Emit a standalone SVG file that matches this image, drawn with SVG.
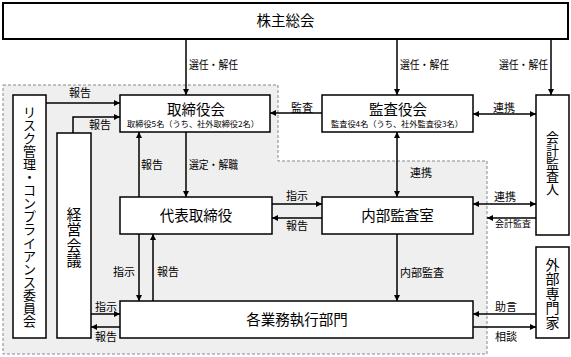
<svg xmlns="http://www.w3.org/2000/svg" width="571" height="357" viewBox="0 0 571 357">
<style>
text{font-family:"Noto Sans CJK JP","Noto Sans CJK SC",sans-serif;fill:#000}
.box{fill:#fff;stroke:#000;stroke-width:1.5}
.ttl{font-size:14.5px;text-anchor:middle}
.sub{font-size:8.2px;text-anchor:middle}
.lbl{font-size:11px}
.sm{font-size:9px}
.c{text-anchor:middle}
.e{text-anchor:end}
.ln{fill:none;stroke:#000;stroke-width:1.5}
</style>
<defs>
<marker id="ah" markerWidth="6" markerHeight="6" refX="6" refY="3" orient="auto-start-reverse" markerUnits="userSpaceOnUse">
<path d="M0,0 L6,3 L0,6 z" fill="#000"/>
</marker>
</defs>
<rect width="571" height="357" fill="#fff"/>
<path id="area" d="M3,85 H278 V161 H487 V354 H3 Z" fill="#efefef" stroke="#888" stroke-width="1" stroke-dasharray="3,2"/>

<g id="shareholders">
<rect x="3" y="3" width="565" height="36" fill="#fff" stroke="#000" stroke-width="2"/>
<text class="ttl" x="285.5" y="26">株主総会</text>
</g>
<g id="board">
<rect class="box" x="120" y="95" width="150" height="37"/>
<text class="ttl" x="196" y="114.5">取締役会</text>
<text class="sub" x="193" y="127">取締役5名（うち、社外取締役2名）</text>
</g>
<g id="auditboard">
<rect class="box" x="322" y="95" width="151" height="37"/>
<text class="ttl" x="398" y="114.5">監査役会</text>
<text class="sub" x="397" y="127">監査役4名（うち、社外監査役3名）</text>
</g>
<g id="accountant">
<rect class="box" x="536" y="95" width="33" height="140"/>
<text class="ttl" style="font-size:13px"><tspan x="552.5" y="141.5">会</tspan><tspan x="552.5" dy="13.2">計</tspan><tspan x="552.5" dy="13.2">監</tspan><tspan x="552.5" dy="13.2">査</tspan><tspan x="552.5" dy="13.2">人</tspan></text>
</g>
<g id="risk">
<rect class="box" x="13" y="95" width="33" height="243"/>
<text class="ttl" style="font-size:13px"><tspan x="29.5" y="116.5">リ</tspan><tspan x="29.5" dy="13.1">ス</tspan><tspan x="29.5" dy="13.1">ク</tspan><tspan x="29.5" dy="13.1">管</tspan><tspan x="29.5" dy="13.1">理</tspan><tspan x="29.5" dy="13.1">・</tspan><tspan x="29.5" dy="13.1">コ</tspan><tspan x="29.5" dy="13.1">ン</tspan><tspan x="29.5" dy="13.1">プ</tspan><tspan x="29.5" dy="13.1">ラ</tspan><tspan x="29.5" dy="13.1">イ</tspan><tspan x="29.5" dy="13.1">ア</tspan><tspan x="29.5" dy="13.1">ン</tspan><tspan x="29.5" dy="13.1">ス</tspan><tspan x="29.5" dy="13.1">委</tspan><tspan x="29.5" dy="13.1">員</tspan><tspan x="29.5" dy="13.1">会</tspan></text>
</g>
<g id="mgmt">
<rect class="box" x="57" y="133" width="34" height="205"/>
<text class="ttl" style="font-size:15px"><tspan x="74" y="219.5">経</tspan><tspan x="74" dy="15.5">営</tspan><tspan x="74" dy="15.5">会</tspan><tspan x="74" dy="15.5">議</tspan></text>
</g>
<g id="ceo">
<rect class="box" x="120" y="197" width="152" height="37"/>
<text class="ttl" x="196" y="221">代表取締役</text>
</g>
<g id="internalaudit">
<rect class="box" x="322" y="197" width="151" height="37"/>
<text class="ttl" x="397.5" y="221">内部監査室</text>
</g>
<g id="divisions">
<rect class="box" x="120" y="301" width="353" height="37"/>
<text class="ttl" x="297" y="325">各業務執行部門</text>
</g>
<g id="experts">
<rect class="box" x="536" y="247" width="33" height="91"/>
<text class="ttl" style="font-size:14px"><tspan x="552.5" y="270">外</tspan><tspan x="552.5" dy="14.4">部</tspan><tspan x="552.5" dy="14.4">専</tspan><tspan x="552.5" dy="14.4">門</tspan><tspan x="552.5" dy="14.4">家</tspan></text>
</g>

<g id="connectors">
<line class="ln" x1="186" y1="40" x2="186" y2="95" marker-end="url(#ah)"/>
<line class="ln" x1="397" y1="40" x2="397" y2="95" marker-end="url(#ah)"/>
<line class="ln" x1="551" y1="40" x2="551" y2="95" marker-end="url(#ah)"/>
<line class="ln" x1="46" y1="103" x2="120" y2="103" marker-end="url(#ah)"/>
<polyline class="ln" points="73,133 73,117 120,117" marker-end="url(#ah)"/>
<line class="ln" x1="322" y1="113" x2="270" y2="113" marker-end="url(#ah)"/>
<line class="ln" x1="473" y1="114" x2="536" y2="114" marker-start="url(#ah)" marker-end="url(#ah)"/>
<line class="ln" x1="139" y1="197" x2="139" y2="132" marker-end="url(#ah)"/>
<line class="ln" x1="186" y1="132" x2="186" y2="197" marker-end="url(#ah)"/>
<line class="ln" x1="397" y1="132" x2="397" y2="197" marker-start="url(#ah)" marker-end="url(#ah)"/>
<line class="ln" x1="272" y1="204" x2="322" y2="204" marker-end="url(#ah)"/>
<line class="ln" x1="322" y1="218" x2="272" y2="218" marker-end="url(#ah)"/>
<line class="ln" x1="473" y1="204" x2="536" y2="204" marker-start="url(#ah)" marker-end="url(#ah)"/>
<line class="ln" x1="536" y1="218" x2="487" y2="218" marker-end="url(#ah)"/>
<line class="ln" x1="139" y1="234" x2="139" y2="301" marker-end="url(#ah)"/>
<line class="ln" x1="153" y1="301" x2="153" y2="234" marker-end="url(#ah)"/>
<line class="ln" x1="397" y1="234" x2="397" y2="301" marker-end="url(#ah)"/>
<line class="ln" x1="91" y1="314" x2="120" y2="314" marker-end="url(#ah)"/>
<line class="ln" x1="120" y1="327" x2="91" y2="327" marker-end="url(#ah)"/>
<line class="ln" x1="536" y1="314" x2="473" y2="314" marker-end="url(#ah)"/>
<line class="ln" x1="473" y1="327" x2="536" y2="327" marker-end="url(#ah)"/>

<text class="lbl" x="189" y="69" textLength="49" lengthAdjust="spacingAndGlyphs">選任・解任</text>
<text class="lbl" x="400" y="69" textLength="49" lengthAdjust="spacingAndGlyphs">選任・解任</text>
<text class="lbl" x="499" y="69" textLength="49" lengthAdjust="spacingAndGlyphs">選任・解任</text>
<text class="lbl c" x="80" y="97">報告</text>
<text class="lbl c" x="100" y="129">報告</text>
<text class="lbl c" x="302" y="112">監査</text>
<text class="lbl c" x="504" y="112">連携</text>
<text class="lbl" x="141" y="169">報告</text>
<text class="lbl" x="189" y="169" textLength="49" lengthAdjust="spacingAndGlyphs">選定・解職</text>
<text class="lbl" x="410" y="177">連携</text>
<text class="lbl c" x="297" y="200">指示</text>
<text class="lbl c" x="297" y="230">報告</text>
<text class="lbl c" x="505" y="201">連携</text>
<text class="sm c" x="513" y="227">会計監査</text>
<text class="lbl c" x="124" y="276">指示</text>
<text class="lbl" x="157" y="276">報告</text>
<text class="lbl" x="400" y="277">内部監査</text>
<text class="lbl c" x="106" y="311">指示</text>
<text class="lbl c" x="106" y="341">報告</text>
<text class="lbl c" x="506" y="311">助言</text>
<text class="lbl c" x="506" y="341">相談</text>
</g>
</svg>
